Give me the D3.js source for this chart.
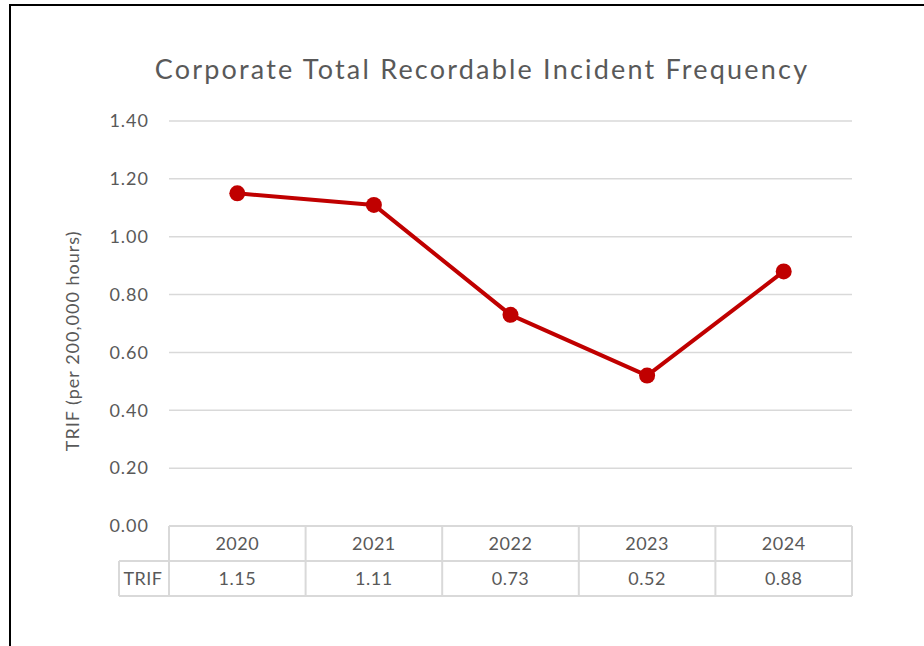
<!DOCTYPE html>
<html>
<head>
<meta charset="utf-8">
<script src="https://cdn.jsdelivr.net/npm/d3@7"></script>
<style>
  body { margin: 0; background: #fff; }
  svg { display: block; font-family: Lato, "Open Sans", sans-serif; }
</style>
</head>
<body>
<div id="chart"></div>
<script>
const years = ['2020', '2021', '2022', '2023', '2024'];
const trif = [1.15, 1.11, 0.73, 0.52, 0.88];
const yTicks = [0, 0.2, 0.4, 0.6, 0.8, 1.0, 1.2, 1.4];
const seriesName = 'TRIF';

const width = 924, height = 646;
const margin = { top: 121, right: 72, bottom: 120, left: 169 };
const textColor = '#595959';
const gridColor = '#d9d9d9';
const lineColor = '#c00000';

const svg = d3.select('#chart').append('svg')
  .attr('width', width)
  .attr('height', height);

// outer frame
svg.append('rect')
  .attr('x', 10).attr('y', 5)
  .attr('width', width + 10).attr('height', height + 10)
  .attr('fill', 'none')
  .attr('stroke', '#000')
  .attr('stroke-width', 2);

svg.append('text')
  .attr('x', 482).attr('y', 79)
  .attr('text-anchor', 'middle')
  .attr('fill', textColor)
  .style('font-size', '27px')
  .style('letter-spacing', '2.2px')
  .text('Corporate Total Recordable Incident Frequency');

const x = d3.scaleBand().domain(years).range([margin.left, width - margin.right]);
const y = d3.scaleLinear().domain([0, 1.4]).range([height - margin.bottom, margin.top]);

// gridlines
svg.append('g')
  .selectAll('line')
  .data(yTicks.slice(1))
  .join('line')
  .attr('x1', x.range()[0]).attr('x2', x.range()[1])
  .attr('y1', d => y(d)).attr('y2', d => y(d))
  .attr('stroke', gridColor)
  .attr('stroke-width', 1.5);

// y axis labels
const yAxis = svg.append('g')
  .attr('transform', `translate(${margin.left - 20},0)`)
  .call(d3.axisLeft(y).tickValues(yTicks).tickFormat(d3.format('.2f')).tickSize(0).tickPadding(0));
yAxis.select('.domain').remove();
yAxis.selectAll('text')
  .attr('fill', textColor)
  .style('font-size', '18px')
  .style('letter-spacing', '1px')
  .style('font-family', 'Lato, "Open Sans", sans-serif');

svg.append('text')
  .attr('transform', `translate(79,${y(0.64)}) rotate(-90)`)
  .attr('text-anchor', 'middle')
  .attr('fill', textColor)
  .style('font-size', '18px')
  .style('letter-spacing', '1px')
  .text('TRIF (per 200,000 hours)');

// line + markers
const line = d3.line()
  .x((d, i) => x(years[i]) + x.bandwidth() / 2)
  .y(d => y(d));

svg.append('path')
  .datum(trif)
  .attr('d', line)
  .attr('fill', 'none')
  .attr('stroke', lineColor)
  .attr('stroke-width', 4)
  .attr('stroke-linejoin', 'round');

svg.append('g')
  .selectAll('circle')
  .data(trif)
  .join('circle')
  .attr('cx', (d, i) => x(years[i]) + x.bandwidth() / 2)
  .attr('cy', d => y(d))
  .attr('r', 8)
  .attr('fill', lineColor);

// data table
const rowH = 35;
const t0 = y(0);
const table = svg.append('g')
  .attr('fill', 'none')
  .attr('stroke', gridColor)
  .attr('stroke-width', 2);

table.append('line')
  .attr('x1', x.range()[0]).attr('x2', x.range()[1])
  .attr('y1', t0).attr('y2', t0);
table.append('line')
  .attr('x1', 119).attr('x2', x.range()[1])
  .attr('y1', t0 + rowH).attr('y2', t0 + rowH);
table.append('line')
  .attr('x1', 119).attr('x2', x.range()[1])
  .attr('y1', t0 + 2 * rowH).attr('y2', t0 + 2 * rowH);
table.append('line')
  .attr('x1', 119).attr('x2', 119)
  .attr('y1', t0 + rowH).attr('y2', t0 + 2 * rowH);
table.selectAll('.vsep')
  .data(years.concat(['end']))
  .join('line')
  .attr('class', 'vsep')
  .attr('x1', (d, i) => x.range()[0] + i * x.step())
  .attr('x2', (d, i) => x.range()[0] + i * x.step())
  .attr('y1', t0).attr('y2', t0 + 2 * rowH);

svg.append('g')
  .selectAll('text')
  .data(years)
  .join('text')
  .attr('x', d => x(d) + x.bandwidth() / 2)
  .attr('y', t0 + rowH / 2 + 6)
  .attr('text-anchor', 'middle')
  .attr('fill', textColor)
  .style('font-size', '18px')
  .style('letter-spacing', '0.5px')
  .text(d => d);

svg.append('g')
  .selectAll('text')
  .data(trif)
  .join('text')
  .attr('x', (d, i) => x(years[i]) + x.bandwidth() / 2)
  .attr('y', t0 + rowH * 1.5 + 6)
  .attr('text-anchor', 'middle')
  .attr('fill', textColor)
  .style('font-size', '18px')
  .style('letter-spacing', '0.5px')
  .text(d => d3.format('.2f')(d));

svg.append('text')
  .attr('x', 143)
  .attr('y', t0 + rowH * 1.5 + 6)
  .attr('text-anchor', 'middle')
  .attr('fill', textColor)
  .style('font-size', '18px')
  .style('letter-spacing', '0.5px')
  .text(seriesName);
</script>
</body>
</html>
